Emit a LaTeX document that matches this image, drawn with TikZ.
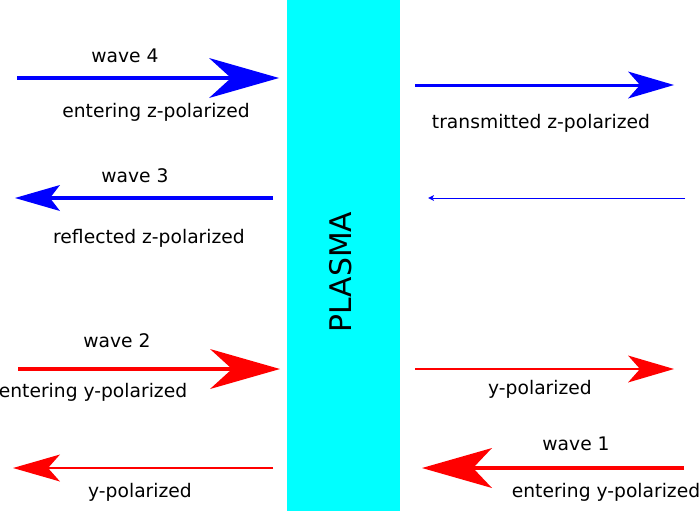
\documentclass[tikz,border=0pt]{standalone}
\usepackage{fontspec}
\setmainfont{DejaVu Sans}
\usetikzlibrary{arrows.meta}
\definecolor{plasmacyan}{RGB}{0,255,255}
\definecolor{wblue}{RGB}{0,0,255}
\definecolor{wred}{RGB}{255,0,0}
\tikzset{
  lbl/.style={font=\fontsize{18.7}{22}\selectfont, anchor=base, inner sep=0pt},
  bluew/.style={draw=wblue, color=wblue, line width=#1},
  redw/.style={draw=wred, color=wred, line width=#1},
  bigtip/.style={-{Stealth[length=70pt,width=40pt,inset=22pt,line width=0pt]}},
  midtip/.style={-{Stealth[length=46pt,width=27pt,inset=12pt,line width=0pt]}},
  smalltip/.style={-{Stealth[length=6pt,width=6pt,inset=1.5pt,line width=0pt]}},
}
\begin{document}
\begin{tikzpicture}[x=1pt,y=-1pt]
\useasboundingbox (0,0) rectangle (700,511);
\fill[white] (0,0) rectangle (700,511);
% plasma slab
\node[fill=plasmacyan, minimum width=113pt, minimum height=511pt, inner sep=0pt, outer sep=0pt] (plasma) at (343.5,255.5) {};
\node[font=\fontsize{29.8}{34}\selectfont, rotate=90, inner sep=0pt] (plasmalbl) at (341,272) {PLASMA};
% coordinates
\coordinate (w4s) at (17,78);   \coordinate (w4e) at (279,78);
\coordinate (tzs) at (415,85);  \coordinate (tze) at (674,85);
\coordinate (ths) at (685,198); \coordinate (the) at (428,198);
\coordinate (w3s) at (273,198); \coordinate (w3e) at (15,198);
\coordinate (w2s) at (18,369);  \coordinate (w2e) at (280,369);
\coordinate (lys) at (273,468); \coordinate (lye) at (13,468);
\coordinate (rys) at (415,369); \coordinate (rye) at (674,369);
\coordinate (w1s) at (684,468); \coordinate (w1e) at (422,468);
% arrows
\draw[bluew=4pt, bigtip] (w4s) -- (w4e);
\draw[bluew=3pt, midtip] (tzs) -- (tze);
\draw[bluew=1pt, smalltip] (ths) -- (the);
\draw[bluew=3.2pt, -{Stealth[length=45pt,width=26pt,inset=10pt,line width=0pt]}] (w3s) -- (w3e);
\draw[redw=4pt, bigtip] (w2s) -- (w2e);
\draw[redw=2.2pt, -{Stealth[length=47pt,width=27pt,inset=12pt,line width=0pt]}] (lys) -- (lye);
\draw[redw=2.2pt, midtip] (rys) -- (rye);
\draw[redw=4pt, -{Stealth[length=70pt,width=40pt,inset=19pt,line width=0pt]}] (w1s) -- (w1e);
% labels
\node[lbl] (t4) at (125,62) {wave 4};
\node[lbl] (t4b) at (156,117) {entering z-polarized};
\node[lbl] (ttz) at (541,128) {transmitted z-polarized};
\node[lbl] (t3) at (135,182) {wave 3};
\node[lbl] (t3b) at (149,243) {reflected z-polarized};
\node[lbl] (t2) at (117,347) {wave 2};
\node[lbl] (t2b) at (93,397) {entering y-polarized};
\node[lbl] (tly) at (140,497) {y-polarized};
\node[lbl] (try) at (540,394) {y-polarized};
\node[lbl] (t1) at (576,450) {wave 1};
\node[lbl] (t1b) at (606,497) {entering y-polarized};
\end{tikzpicture}
\end{document}
